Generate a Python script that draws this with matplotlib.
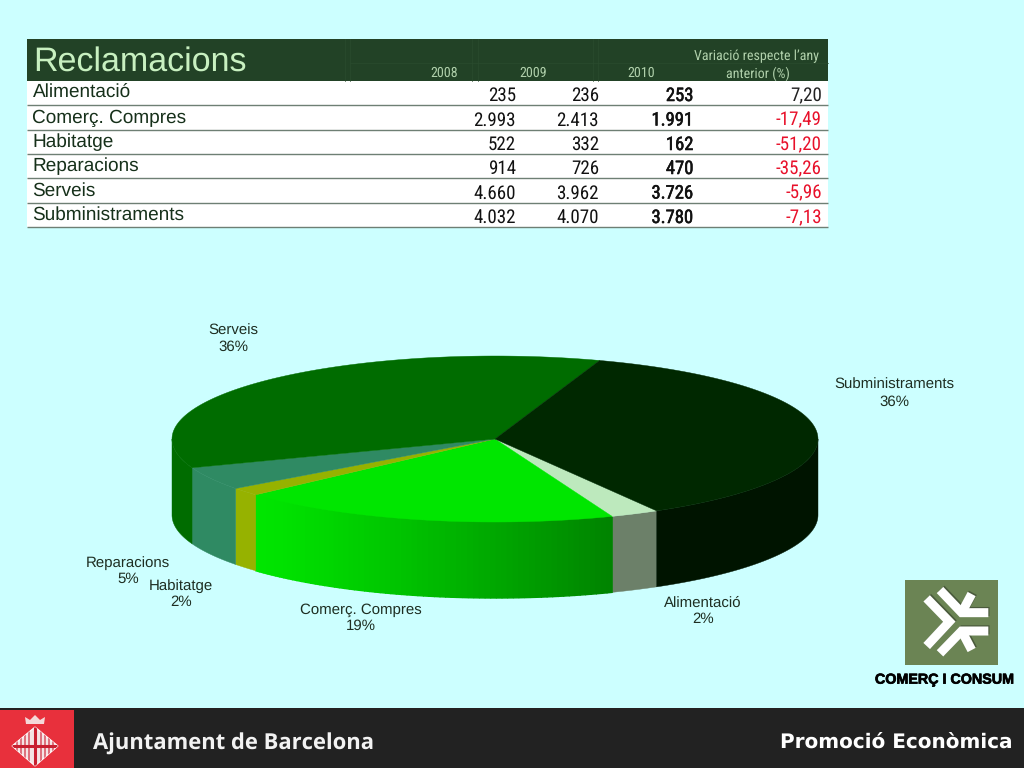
import numpy as np
import matplotlib
matplotlib.use("Agg")
import matplotlib.pyplot as plt
import matplotlib.patheffects as pe
from matplotlib.patches import Rectangle, Polygon

plt.rcParams["text.hinting"] = "no_hinting"
plt.rcParams["text.hinting_factor"] = 1

# ---- data ----
categories = ["Alimentació", "Comerç. Compres", "Habitatge", "Reparacions", "Serveis", "Subministraments"]
values_2008 = [235, 2993, 522, 914, 4660, 4032]
values_2009 = [236, 2413, 332, 726, 3962, 4070]
values_2010 = [253, 1991, 162, 470, 3726, 3780]
variation = [7.20, -17.49, -51.20, -35.26, -5.96, -7.13]
years = ["2008", "2009", "2010"]

BG = "#CCFFFF"
top_colors = ["#BDE9BD", "#00E600", "#96B200", "#2F8A63", "#006C00", "#002800"]
side_colors = ["#6C8069", None, "#96B200", "#2F8A63", "#006C00", "#001400"]
grad_left, grad_right = np.array([0, 230, 0]) / 255, np.array([0, 130, 0]) / 255

fig = plt.figure(figsize=(10.24, 7.68), dpi=100, facecolor=BG)
ax = fig.add_axes([0, 0, 1, 1])
ax.set_xlim(0, 1024)
ax.set_ylim(768, 0)
ax.axis("off")
SANS = "Liberation Sans"
NARROW = ["Roboto Condensed", "Liberation Sans"]
BOLD = ["Open Sans", "Liberation Sans"]
embolden = [pe.withStroke(linewidth=0.4, foreground="#111111")]

def num(v):
    return f"{v:,}".replace(",", ".")

# ---- table ----
HEAD = "#224226"
ax.add_patch(Rectangle((27, 39), 801, 42, fc=HEAD, ec="none"))
ax.add_patch(Rectangle((27, 81), 801, 146, fc="white", ec="none"))
for x in (345, 350, 472, 478, 593, 598):
    ax.plot([x, x], [39, 81], color="#2A4B2E", lw=0.5)
ax.plot([350, 828], [63, 63], color="#2A4B2E", lw=0.5)
ax.text(33, 71, "Reclamacions", family=SANS, fontsize=24.2, color="#C8F0C0", va="baseline", ha="left")
for lab, x in zip(years, (444, 533, 641)):
    ax.text(x, 77, lab, family=NARROW, fontsize=10.4, color="#B0D0AB", ha="center", va="baseline")
ax.text(819, 60.5, "Variació respecte l’any", family=NARROW, fontsize=10.2, color="#B0D0AB", ha="right", va="baseline")
ax.text(758, 78, "anterior (%)", family=NARROW, fontsize=10.2, color="#B0D0AB", ha="center", va="baseline")

row_lines = [105, 130, 154, 178, 203, 227]
label_base = [98, 122.5, 147, 171.5, 196, 220]
num_base = [101, 125.5, 150, 174, 198.5, 223]
for i, cat in enumerate(categories):
    ax.plot([27, 828], [row_lines[i]] * 2, color="#6E7F74", lw=1.0, solid_capstyle="butt")
    ax.text(32.5, label_base[i], cat, family=SANS, fontsize=13.4, color="#16301A", va="baseline", ha="left")
    ax.text(516, num_base[i], num(values_2008[i]), family=NARROW, fontsize=13.4, color="#111", ha="right", va="baseline")
    ax.text(599, num_base[i], num(values_2009[i]), family=NARROW, fontsize=13.4, color="#111", ha="right", va="baseline")
    ax.text(694, num_base[i], num(values_2010[i]), family=NARROW, fontsize=13.4, color="#111", ha="right",
            va="baseline", path_effects=embolden)
    v = variation[i]
    ax.text(822, num_base[i], f"{v:.2f}".replace(".", ","), family=NARROW, fontsize=13.4,
            color="#E8102A" if v < 0 else "#222", ha="right", va="baseline")

# ---- 3D pie built from the 2010 values ----
cx, cy, rx, ry, depth = 495, 439, 323, 83, 76
total = sum(values_2010)
sweep = [v / total * 360 for v in values_2010]
start = 71.1 - sweep[-1]            # last slice ends at ~71 deg going clockwise
edges = [start]
for s in sweep:
    edges.append(edges[-1] - s)

def arc(a0, a1, n=80):
    t = np.radians(np.linspace(a0, a1, n))
    return cx + rx * np.cos(t), cy - ry * np.sin(t)

def side(a0, a1, color, lw=0.3):
    x, y = arc(a0, a1)
    pts = np.r_[np.c_[x, y], np.c_[x[::-1], y[::-1] + depth]]
    ax.add_patch(Polygon(pts, closed=True, fc=color, ec=color, lw=lw))

# sides: only the front half (sin < 0) shows
for i in range(len(values_2010)):
    hi, lo = edges[i], edges[i + 1]
    for shift in (0, 360, -360):
        a0, a1 = min(hi + shift, 0), max(lo + shift, -180)
        if a0 <= a1:
            continue
        if side_colors[i] is None:
            strips = np.linspace(a1, a0, 70)     # left to right
            xs = cx + rx * np.cos(np.radians(strips))
            for j in range(len(strips) - 1):
                f = (xs[j] - xs[0]) / (xs[-1] - xs[0])
                f = f ** 1.15
                side(strips[j + 1], strips[j], tuple(grad_left * (1 - f) + grad_right * f), lw=1.0)
        else:
            side(a0, a1, side_colors[i])

# tops
for i in range(len(values_2010)):
    x, y = arc(edges[i], edges[i + 1], 120)
    pts = np.r_[[[cx, cy]], np.c_[x, y]]
    ax.add_patch(Polygon(pts, closed=True, fc=top_colors[i], ec=top_colors[i], lw=0.3))

pct = [f"{round(v / total * 100)}%" for v in values_2010]
label_xy = {0: (703, 611), 1: (361, 618), 2: (181, 594), 3: (128, 571), 4: (233, 339), 5: (894, 393.5)}
for i, cat in enumerate(categories):
    ax.text(*label_xy[i], f"{cat}\n{pct[i]}", family=SANS, fontsize=10.8, color="#1E2E22",
            ha="center", va="center", linespacing=1.2)

# ---- footer ----
ax.add_patch(Rectangle((0, 708), 1024, 60, fc="#222222", ec="none"))
ax.add_patch(Rectangle((0, 710), 74, 58, fc="#E8303C", ec="none"))
diamond = Polygon([(35, 727), (58, 746), (35, 766), (12, 746)], closed=True, fc="#F4E4E4", ec="white", lw=0.8)
ax.add_patch(diamond)
for xx in (17, 21, 25, 29, 41, 45, 49, 53):
    ln, = ax.plot([xx, xx], [725, 768], color="#D85060", lw=1.1)
    ln.set_clip_path(diamond)
ln, = ax.plot([35, 35], [725, 768], color="#C82030", lw=2.2); ln.set_clip_path(diamond)
ln, = ax.plot([12, 58], [746, 746], color="#C82030", lw=2.2); ln.set_clip_path(diamond)
ax.add_patch(Polygon([(26, 724), (25, 717), (30, 720), (35, 715), (40, 720), (45, 717), (44, 724)],
                     closed=True, fc="#F4D8D8", ec="none"))
ax.text(93, 750, "Ajuntament de Barcelona", family=BOLD, fontsize=15.6, fontweight="bold", color="#F2F2F2", ha="left", va="baseline")
ax.text(1013, 748, "Promoció Econòmica", family="DejaVu Sans", fontsize=14.3, fontweight="bold", color="white", ha="right", va="baseline")

# ---- Comerç i Consum logo ----
ax.add_patch(Rectangle((905, 580), 93, 85, fc="#6B8454", ec="none"))
def zx(p):
    return [860 + p[0] / 3, 570 + p[1] / 3]
strokes = [
    [(200, 85), (268, 155), (200, 228)],
    [(240, 60), (305, 128), (385, 128)],
    [(305, 128), (335, 72)],
    [(240, 250), (305, 183), (385, 183)],
    [(305, 183), (335, 240)],
]
for st in strokes:
    pts = np.array([zx(p) for p in st])
    ax.plot(pts[:, 0] + 1.2, pts[:, 1] - 1.2, color="#4A5A3C", lw=6.5, solid_capstyle="butt", solid_joinstyle="miter")
for st in strokes:
    pts = np.array([zx(p) for p in st])
    ax.plot(pts[:, 0], pts[:, 1], color="white", lw=6.5, solid_capstyle="butt", solid_joinstyle="miter")
ax.text(943, 680, "COMERÇ I CONSUM", family=SANS, fontsize=10.3, fontweight="bold", color="black", ha="center", va="center",
        path_effects=[pe.withStroke(linewidth=0.5, foreground="black")])

fig.savefig("out.png", dpi=100, facecolor=BG)
